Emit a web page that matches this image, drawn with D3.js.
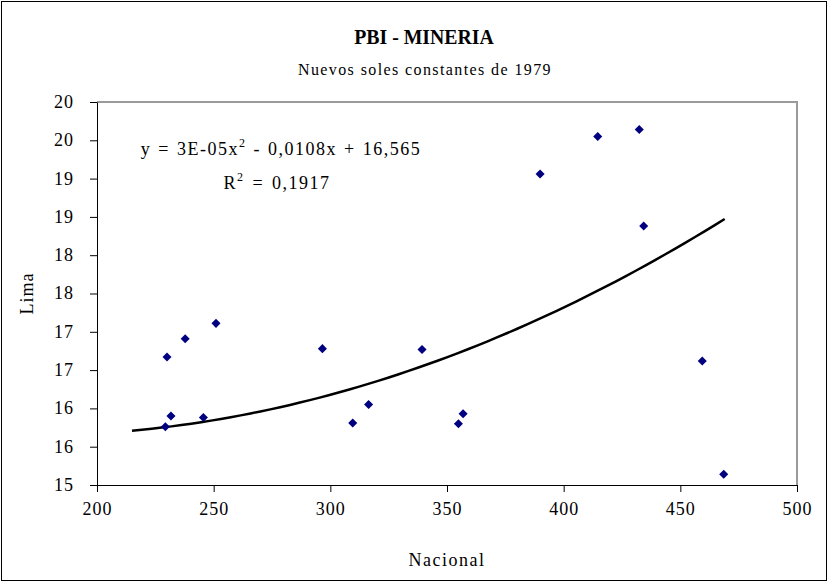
<!DOCTYPE html>
<html>
<head>
<meta charset="utf-8">
<script src="https://cdnjs.cloudflare.com/ajax/libs/d3/7.8.5/d3.min.js"></script>
<style>
  body { margin: 0; background: #fff; }
  text { font-family: "Liberation Serif", "Times New Roman", serif; fill: #000; }
</style>
</head>
<body>
<div class="box"></div>
<script>
// Data
const nacional = [229.3, 230.0, 231.7, 237.8, 245.6, 251.0, 296.6, 309.6, 316.4, 339.3,
                  354.9, 356.9, 389.9, 414.6, 432.4, 434.3, 459.4, 468.6];
const lima = [15.76, 16.67, 15.90, 16.91, 15.88, 17.11, 16.78, 15.81, 16.05, 16.77,
              15.80, 15.93, 19.06, 19.55, 19.64, 18.38, 16.62, 15.14];

// polynomial trend line y = a x^2 + b x + c, and its x range
const trendCoef = [3.17e-5, -0.0108, 16.565];
const trendRange = [215, 469];

const xTicks = [200, 250, 300, 350, 400, 450, 500];
const yTicks = [15, 15.5, 16, 16.5, 17, 17.5, 18, 18.5, 19, 19.5, 20];
const yTickLabels = ["15", "16", "16", "17", "17", "18", "18", "19", "19", "20", "20"];

const w = 828;
const h = 582;
const plotL = 97, plotR = 797, plotT = 102, plotB = 485;

const svg = d3.select(".box")
              .append("svg")
              .attr("width", w)
              .attr("height", h);

// chart border
svg.append("rect")
    .attr("x", 1.5).attr("y", 1.5)
    .attr("width", w - 3).attr("height", h - 3)
    .attr("fill", "none")
    .attr("stroke", "#000")
    .attr("stroke-width", 1);

const xScale = d3.scaleLinear().domain([200, 500]).range([plotL, plotR]);
const yScale = d3.scaleLinear().domain([15, 20]).range([plotB, plotT]);

// plot area border (grey top and right)
svg.append("path")
    .attr("d", "M" + plotL + "," + plotT + "H" + plotR + "V" + plotB)
    .attr("fill", "none")
    .attr("stroke", "#9a9a9a")
    .attr("stroke-width", 2);

// AXES
const xAxis = d3.axisBottom(xScale).tickValues(xTicks).tickSize(7).tickSizeOuter(0);
const yAxis = d3.axisLeft(yScale).tickValues(yTicks).tickSize(7).tickSizeOuter(0)
                .tickFormat((d, i) => yTickLabels[i]);

const gx = svg.append("g")
    .attr("transform", "translate(0," + plotB + ")")
    .call(xAxis);
gx.selectAll("text")
    .attr("y", 30)
    .attr("dy", 0)
    .style("font-size", "18px")
    .style("letter-spacing", "1px");

const gy = svg.append("g")
    .attr("transform", "translate(" + plotL + ",0)")
    .call(yAxis);
gy.selectAll("text")
    .attr("x", -23)
    .attr("dy", "0.3em")
    .style("font-size", "18px")
    .style("letter-spacing", "1px");

svg.selectAll(".domain, .tick line").attr("stroke", "#000").attr("stroke-width", 1);
svg.selectAll("g").attr("font-family", null).attr("font-size", null);

// TREND LINE
const trendX = d3.range(trendRange[0], trendRange[1] + 0.001, (trendRange[1] - trendRange[0]) / 60);
const trend = trendX.map(x => [x, trendCoef[0] * x * x + trendCoef[1] * x + trendCoef[2]]);

svg.append("path")
    .datum(trend)
    .attr("fill", "none")
    .attr("stroke", "#000")
    .attr("stroke-width", 2.5)
    .attr("d", d3.line().x(d => xScale(d[0])).y(d => yScale(d[1])));

// DATA POINTS (diamonds)
svg.selectAll(".dot")
    .data(nacional)
    .enter()
    .append("path")
    .attr("class", "dot")
    .attr("d", d3.symbol().type(d3.symbolSquare).size(41))
    .attr("transform", (d, i) => "translate(" + xScale(d) + "," + yScale(lima[i]) + ") rotate(45)")
    .attr("fill", "#000080");

// TITLES
svg.append("text")
    .attr("transform", "translate(424,44) scale(0.9,1)")
    .attr("text-anchor", "middle")
    .style("font-size", "22px")
    .style("font-weight", "bold")
    .text("PBI - MINERIA");

svg.append("text")
    .attr("x", 425)
    .attr("y", 75)
    .attr("text-anchor", "middle")
    .style("font-size", "16px")
    .style("letter-spacing", "1.4px")
    .text("Nuevos soles constantes de 1979");

// equation label
const eq = svg.append("text")
    .attr("x", 281)
    .attr("y", 155)
    .attr("text-anchor", "middle")
    .style("font-size", "18px")
    .style("letter-spacing", "1.5px")
    .style("word-spacing", "1px");
eq.append("tspan").text("y = 3E-05x");
eq.append("tspan").attr("dy", -8).style("font-size", "12px").text("2");
eq.append("tspan").attr("dy", 8).text(" - 0,0108x + 16,565");

const r2 = svg.append("text")
    .attr("x", 277)
    .attr("y", 189)
    .attr("text-anchor", "middle")
    .style("font-size", "18px")
    .style("letter-spacing", "1.5px")
    .style("word-spacing", "2px");
r2.append("tspan").text("R");
r2.append("tspan").attr("dy", -8).style("font-size", "12px").text("2");
r2.append("tspan").attr("dy", 8).text(" = 0,1917");

// axis names
svg.append("text")
    .attr("transform", "rotate(-90)")
    .attr("x", -(plotT + plotB) / 2)
    .attr("y", 33)
    .attr("text-anchor", "middle")
    .style("font-size", "18px")
    .style("letter-spacing", "1px")
    .text("Lima");

svg.append("text")
    .attr("x", 447)
    .attr("y", 566)
    .attr("text-anchor", "middle")
    .style("font-size", "18px")
    .style("letter-spacing", "1.5px")
    .text("Nacional");
</script>
</body>
</html>
